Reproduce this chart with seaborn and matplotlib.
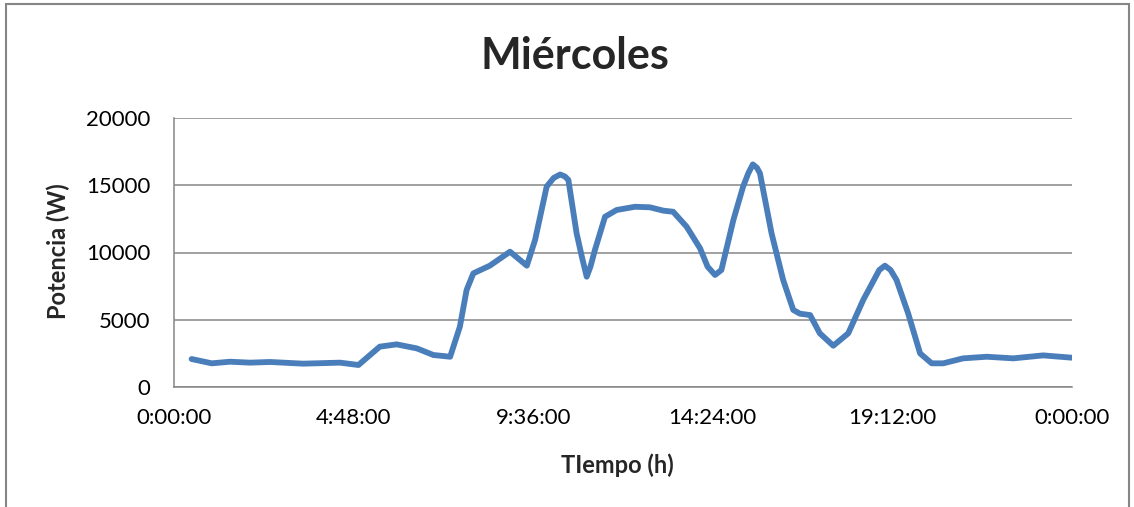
import matplotlib
matplotlib.use("Agg")
import matplotlib.pyplot as plt
import seaborn as sns
import pandas as pd
from matplotlib.patches import Rectangle

# datos (hora decimal, potencia en W)
horas = [0.47, 1.01, 1.50, 2.03, 2.57, 3.45, 4.44, 4.93, 5.50, 5.95, 6.49, 6.93,
         7.38, 7.64, 7.82, 8.00, 8.44, 8.98, 9.43, 9.65, 9.96, 10.15, 10.32, 10.45,
         10.54, 10.76, 10.90, 11.03, 11.13, 11.25, 11.52, 11.83, 12.32, 12.72, 13.08,
         13.34, 13.70, 14.06, 14.26, 14.46, 14.63, 14.95, 15.21, 15.35, 15.47, 15.58,
         15.66, 15.97, 16.28, 16.55, 16.73, 17.00, 17.26, 17.62, 18.02, 18.42, 18.85,
         19.00, 19.15, 19.31, 19.62, 19.94, 20.25, 20.56, 21.09, 21.72, 22.43, 23.23,
         23.99]
potencia = [2080, 1760, 1880, 1810, 1860, 1735, 1810, 1635, 3000, 3170, 2870, 2380,
            2250, 4480, 7210, 8450, 9020, 10060, 9020, 10930, 14900, 15550, 15800, 15650,
            15390, 11430, 9690, 8200, 8950, 10190, 12660, 13160, 13400, 13360, 13110,
            13030, 11920, 10310, 8950, 8330, 8700, 12420, 14900, 15900, 16550, 16300,
            15890, 11430, 7960, 5730, 5450, 5350, 3990, 3070, 3990, 6470, 8700,
            9020, 8700, 7960, 5480, 2500, 1760, 1760, 2130, 2250, 2130, 2350,
            2180]

ticks_x = [0, 4.8, 9.6, 14.4, 19.2, 24]
etiquetas_x = ["0:00:00", "4:48:00", "9:36:00", "14:24:00", "19:12:00", "0:00:00"]
ticks_y = [0, 5000, 10000, 15000, 20000]

df = pd.DataFrame({"hora": horas, "potencia": potencia})

sns.set_style("white")
plt.rcParams['font.family'] = ['Lato', 'DejaVu Sans']

gris = "#868686"
fig = plt.figure(figsize=(11.34, 5.07), dpi=100)
ax = fig.add_axes([174 / 1134, 1 - 387 / 507, (1072 - 174) / 1134, (387 - 118) / 507])

sns.lineplot(data=df, x="hora", y="potencia", ax=ax, color="#4A7EBB", linewidth=4.2,
             solid_joinstyle="round", solid_capstyle="round")

ax.set_xlim(0, 24)
ax.set_ylim(0, 20000)
ax.set_xticks(ticks_x)
ax.set_xticklabels(etiquetas_x)
ax.set_yticks(ticks_y)
ax.set_yticklabels([str(v) for v in ticks_y])
ax.tick_params(axis="both", labelsize=16, colors=gris, labelcolor="black",
               direction="out", length=5, width=1.1)
ax.tick_params(axis="y", pad=12)
ax.tick_params(axis="x", pad=10)
ax.grid(axis="y", color=gris, linewidth=1.1)
ax.set_axisbelow(True)
for lado in ["top", "right"]:
    ax.spines[lado].set_visible(False)
for lado in ["left", "bottom"]:
    ax.spines[lado].set_color(gris)
    ax.spines[lado].set_linewidth(1.1)
ax.set_xlabel("")
ax.set_ylabel("")

fig.text(575 / 1134, 1 - 56 / 507, "Miércoles", ha="center", va="center",
         fontsize=31, fontweight="bold")
fig.text(58 / 1134, 1 - 251 / 507, "Potencia (W)", ha="center", va="center",
         rotation=90, fontsize=17, fontweight="bold")
fig.text(617 / 1134, 1 - 465 / 507, "TIempo (h)", ha="center", va="center",
         fontsize=17, fontweight="bold")

# marco del grafico
fig.patches.append(Rectangle((6 / 1134, -0.1), (1129 - 6) / 1134, 1.1 - 4 / 507,
                             transform=fig.transFigure, fill=False,
                             edgecolor=gris, linewidth=1.5))

fig.savefig("out.png", dpi=100)
